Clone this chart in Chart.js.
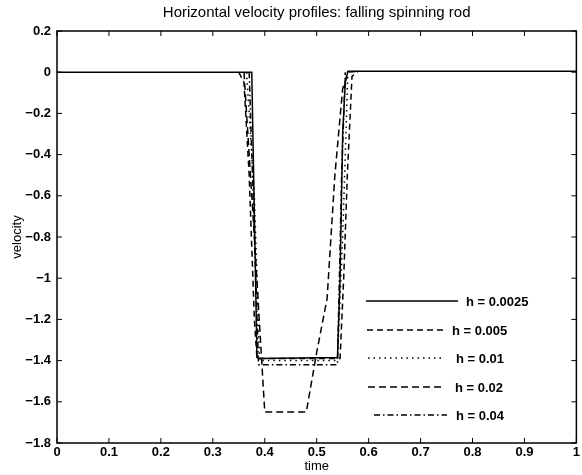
<!DOCTYPE html>
<html>
<head>
<meta charset="utf-8">
<script src="https://cdn.jsdelivr.net/npm/chart.js@4.4.1/dist/chart.umd.min.js"></script>
<style>
  html, body { margin: 0; padding: 0; background: #fff; }
  #wrap { width: 582px; height: 475px; }
</style>
</head>
<body>
<div id="wrap"><canvas id="chart" width="582" height="475"></canvas></div>
<script>
// valores (tempo, velocidade)
const labelsLegenda = ["h = 0.0025", "h = 0.005", "h = 0.01", "h = 0.02", "h = 0.04"];

const t0025 = [0, 0.375, 0.385, 0.39, 0.54, 0.545, 0.55, 0.555, 0.56, 1];
const v0025 = [0, 0, -1.385, -1.39, -1.385, -1.0, -0.3, -0.05, 0.005, 0.005];

const t005 = [0.35, 0.36, 0.37, 0.38, 0.385, 0.545, 0.552, 0.559, 0.568, 0.58];
const v005 = [0, -0.05, -0.5, -1.2, -1.39, -1.39, -1.0, -0.5, -0.02, 0.005];

const t01 = [0.365, 0.38, 0.39, 0.54, 0.55, 0.56];
const v01 = [0, -0.6, -1.4, -1.4, -0.8, 0];

const t02 = [0.36, 0.38, 0.40, 0.42, 0.44, 0.46, 0.48, 0.50, 0.52, 0.535, 0.55, 0.56, 0.58];
const v02 = [0, -0.8, -1.65, -1.65, -1.65, -1.65, -1.65, -1.36, -1.1, -0.5, -0.08, 0, 0.005];

const t04 = [0.37, 0.388, 0.54, 0.548, 0.555];
const v04 = [0, -1.42, -1.42, -0.5, 0];

const xTicks = [0, 0.1, 0.2, 0.3, 0.4, 0.5, 0.6, 0.7, 0.8, 0.9, 1];
const yTicks = [0.2, 0, -0.2, -0.4, -0.6, -0.8, -1, -1.2, -1.4, -1.6, -1.8];

function pontos(ts, vs) {
  return ts.map(function (t, i) { return { x: t, y: vs[i] }; });
}

function formatarTick(v) {
  var s = String(Math.round(v * 10) / 10);
  return s.replace("-", "\u2212");
}

const fonte = "'Liberation Sans', Arial, Helvetica, sans-serif";

function serie(label, ts, vs, dash) {
  return {
    label: label,
    data: pontos(ts, vs),
    borderColor: "#000",
    borderWidth: 1.5,
    borderDash: dash,
    pointRadius: 0,
    fill: false,
    tension: 0,
  };
}

// moldura, ticks para dentro, titulo e legenda estilo matlab
const molduraPlugin = {
  id: "moldura",
  afterDraw: function (chart) {
    var ctx = chart.ctx;
    var a = chart.chartArea;
    var xs = chart.scales.x;
    var ys = chart.scales.y;
    ctx.save();
    ctx.strokeStyle = "#000";
    ctx.lineWidth = 1.5;
    ctx.setLineDash([]);
    ctx.strokeRect(a.left, a.top, a.right - a.left, a.bottom - a.top);
    ctx.lineWidth = 1;
    var tl = 5;
    xTicks.forEach(function (v) {
      var px = xs.getPixelForValue(v);
      ctx.beginPath();
      ctx.moveTo(px, a.bottom); ctx.lineTo(px, a.bottom - tl);
      ctx.moveTo(px, a.top); ctx.lineTo(px, a.top + tl);
      ctx.stroke();
    });
    yTicks.forEach(function (v) {
      var py = ys.getPixelForValue(v);
      ctx.beginPath();
      ctx.moveTo(a.left, py); ctx.lineTo(a.left + tl, py);
      ctx.moveTo(a.right, py); ctx.lineTo(a.right - tl, py);
      ctx.stroke();
    });

    // titulo
    ctx.fillStyle = "#000";
    ctx.font = "15px " + fonte;
    ctx.textAlign = "center";
    ctx.textBaseline = "middle";
    ctx.fillText("Horizontal velocity profiles: falling spinning rod", (a.left + a.right) / 2, 13);

    // legenda
    var linhasY = [301, 330, 358, 387, 415];
    var x1 = [366, 367, 368, 368, 374];
    var x2 = [458, 443, 443, 443, 447];
    var xt = [466, 452, 456, 455, 456];
    ctx.font = "bold 13px " + fonte;
    ctx.textAlign = "left";
    chart.data.datasets.forEach(function (ds, i) {
      ctx.lineWidth = ds.borderWidth;
      ctx.setLineDash(ds.borderDash || []);
      ctx.beginPath();
      ctx.moveTo(x1[i], linhasY[i]);
      ctx.lineTo(x2[i], linhasY[i]);
      ctx.stroke();
      ctx.setLineDash([]);
      ctx.fillText(ds.label, xt[i], linhasY[i] + 1);
    });
    ctx.restore();
  },
};

new Chart(document.getElementById("chart"), {
  type: "line",
  data: {
    datasets: [
      serie(labelsLegenda[0], t0025, v0025, []),
      serie(labelsLegenda[1], t005, v005, [6, 4]),
      serie(labelsLegenda[2], t01, v01, [1.5, 4]),
      serie(labelsLegenda[3], t02, v02, [7, 4]),
      serie(labelsLegenda[4], t04, v04, [6, 3, 1.5, 3]),
    ],
  },
  options: {
    responsive: false,
    animation: false,
    layout: { padding: { top: 31, right: 4, left: 0, bottom: 0 } },
    plugins: {
      legend: { display: false },
      tooltip: { enabled: false },
    },
    scales: {
      x: {
        type: "linear",
        min: 0,
        max: 1,
        afterBuildTicks: function (s) { s.ticks = xTicks.map(function (v) { return { value: v }; }); },
        afterFit: function (s) { s.height = 32; },
        grid: { display: false, drawTicks: false },
        border: { display: false },
        ticks: {
          color: "#000",
          padding: 2,
          maxRotation: 0,
          autoSkip: false,
          font: { family: fonte, size: 13, weight: "bold" },
          callback: formatarTick,
        },
        title: {
          display: true,
          text: "time",
          color: "#000",
          font: { family: fonte, size: 13 },
          padding: { top: 0, bottom: 1 },
        },
      },
      y: {
        type: "linear",
        min: -1.8,
        max: 0.2,
        afterBuildTicks: function (s) { s.ticks = yTicks.map(function (v) { return { value: v }; }); },
        afterFit: function (s) { s.width = 57; },
        grid: { display: false, drawTicks: false },
        border: { display: false },
        ticks: {
          color: "#000",
          padding: 6,
          autoSkip: false,
          font: { family: fonte, size: 13, weight: "bold" },
          callback: formatarTick,
        },
        title: {
          display: true,
          text: "velocity",
          color: "#000",
          font: { family: fonte, size: 13 },
          padding: { top: 10, bottom: 0 },
        },
      },
    },
  },
  plugins: [molduraPlugin],
});
</script>
</body>
</html>
